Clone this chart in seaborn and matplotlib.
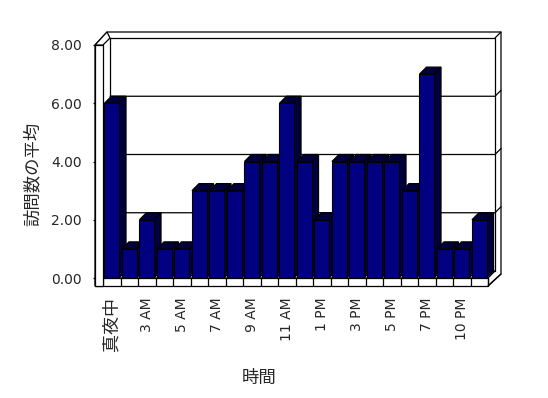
import matplotlib
matplotlib.use("Agg")
import matplotlib.pyplot as plt
import seaborn as sns
import pandas as pd
from matplotlib.patches import Polygon, Rectangle

# ---- data ----
categories = ['真夜中', '1 AM', '3 AM', '4 AM', '5 AM', '6 AM', '7 AM', '8 AM',
              '9 AM', '10 AM', '11 AM', '正午', '1 PM', '2 PM', '3 PM', '4 PM',
              '5 PM', '6 PM', '7 PM', '8 PM', '10 PM', '11 PM']
values = [6, 1, 2, 1, 1, 3, 3, 3, 4, 4, 6, 4, 2, 4, 4, 4, 4, 3, 7, 1, 1, 2]
y_ticks = [0, 2, 4, 6, 8]
x_label = '時間'
y_label = '訪問数の平均'

sns.set_style('white')
plt.rcParams['font.family'] = ['DejaVu Sans', 'Noto Sans CJK JP']

W, H = 548, 398
fig = plt.figure(figsize=(W / 100, H / 100), dpi=100)
ax = fig.add_axes([103 / W, 1 - 278 / H, 385 / W, 233 / H])
ax.set_zorder(1)

df = pd.DataFrame({'cat': categories, 'val': values})
sns.barplot(data=df, x='cat', y='val', order=categories, color='#000080',
            saturation=1, width=0.83, edgecolor='black', linewidth=0.8,
            ax=ax, zorder=5)

x0, x1 = -0.5, len(categories) - 0.5
y0, y1 = 0, 8
ax.set_xlim(x0, x1)
ax.set_ylim(y0, y1)
for s in ax.spines.values():
    s.set_visible(False)

# pixel -> data unit conversions
ux = (x1 - x0) / 385.0
uy = (y1 - y0) / 233.0
dx, dy = 7 * ux, 7 * uy           # depth offset
tx, ty = 6 * ux, 6 * uy           # back wall thickness
lw_ = 8 * ux                      # left wall thickness
fl = 8 * uy                       # floor thickness
K = dict(clip_on=False, lw=0.9, edgecolor='black')

# back wall (outer slab + inner face)
ax.add_patch(Polygon([(x0 - lw_, y1), (x0 + dx - 3 * ux, y1 + dy + ty),
                      (x1 + dx + tx, y1 + dy + ty), (x1 + dx + tx, y0 + dy - 3 * uy),
                      (x1, y0 - fl), (x0 - lw_, y0 - fl)],
                     facecolor='white', zorder=0, **K))
ax.add_patch(Rectangle((x0 + dx, y0 + dy), x1 - x0, y1 - y0, facecolor='white',
                       zorder=0.5, **K))
ax.plot([x1 + dx, x1 + dx + tx], [y1 + dy, y1 + dy + ty], color='black', lw=0.9,
        clip_on=False, zorder=0.6)
# gridlines on back wall
for t in y_ticks[1:-1]:
    ax.plot([x0 + dx, x1 + dx, x1 + dx + tx], [t + dy, t + dy, t + dy + ty],
            color='black', lw=0.9, clip_on=False, zorder=0.6)
# floor top face
ax.add_patch(Polygon([(x0, y0), (x1, y0), (x1 + dx, y0 + dy), (x0 + dx, y0 + dy)],
                     facecolor='white', zorder=0.7, **K))
# floor front face with category dividers
ax.add_patch(Rectangle((x0 - lw_, y0 - fl), x1 - x0 + lw_, fl, facecolor='white',
                       zorder=6, **K))
ax.vlines([x0 + i for i in range(len(categories) + 1)], y0 - fl, y0,
          color='black', lw=0.9, clip_on=False, zorder=6)
ax.plot([x1, x1 + dx + tx], [y0 - fl, y0 + dy - 3 * uy], color='black', lw=0.9,
        clip_on=False, zorder=6)
# left wall front face + top
ax.add_patch(Rectangle((x0 - lw_, y0 - fl), lw_, y1 - y0 + fl, facecolor='white',
                       zorder=6, **K))
ax.add_patch(Polygon([(x0 - lw_, y1), (x0, y1), (x0 + dx, y1 + dy),
                      (x0 + dx - 3 * ux, y1 + dy + ty)],
                     facecolor='white', zorder=6, **K))

# 3D side and top faces of bars
for bar in ax.patches[:0] + [p for p in ax.patches if getattr(p, '_is_bar', False)]:
    pass
bars = [p for p in ax.containers[0]]
for b in bars:
    x, w, h = b.get_x(), b.get_width(), b.get_height()
    side = [(x + w, 0), (x + w, h), (x + w + dx, h + dy), (x + w + dx, dy)]
    top = [(x, h), (x + w, h), (x + w + dx, h + dy), (x + dx, h + dy)]
    ax.add_patch(Polygon(side, facecolor='#00003c', zorder=2, **K))
    ax.add_patch(Polygon(top, facecolor='#00003c', zorder=2, **K))

# ticks and labels
ax.set_yticks(y_ticks)
ax.set_yticklabels([f'{v:.2f}' for v in y_ticks], fontsize=10)
ax.tick_params(axis='y', direction='out', length=7.5, width=0.9, pad=8,
               color='black', left=True)
ax.set_xticks(range(len(categories)))
shown = [c if i % 2 == 0 else '' for i, c in enumerate(categories)]
ax.set_xticklabels(shown, rotation=90, fontsize=10, va='top', ha='center')
ax.tick_params(axis='x', length=0, pad=14)
for lab in ax.get_xticklabels():
    if any(ord(ch) > 0x3000 for ch in lab.get_text()):
        lab.set_fontsize(13)
        lab.set_family('Noto Sans CJK JP')

ax.set_xlabel(x_label, fontsize=12.5, family='Noto Sans CJK JP')
ax.xaxis.set_label_coords(259 / W, 1 - 378 / H, transform=fig.transFigure)
ax.xaxis.label.set_va('center')
ax.set_ylabel(y_label, fontsize=12.5, family='Noto Sans CJK JP')
ax.yaxis.set_label_coords(33 / W, 1 - 174 / H, transform=fig.transFigure)
ax.yaxis.label.set_va('center')

fig.savefig('out.png', dpi=100, facecolor='white')
